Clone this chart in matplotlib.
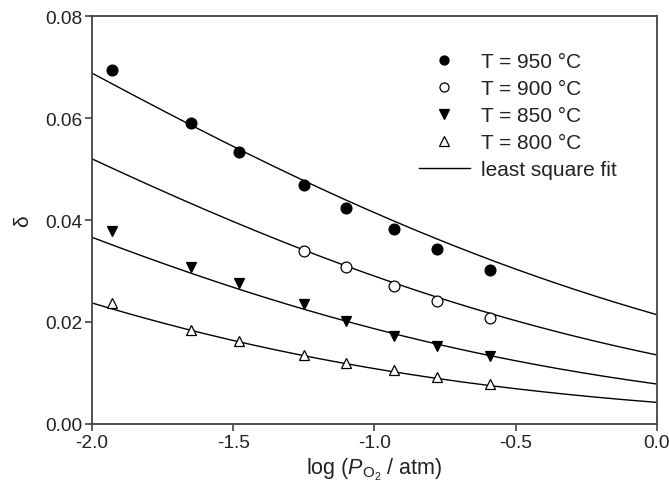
import numpy as np
import matplotlib
matplotlib.use("Agg")
import matplotlib.pyplot as plt
from matplotlib.lines import Line2D

plt.rcParams['font.family'] = ['Liberation Sans', 'DejaVu Sans']
plt.rcParams['mathtext.fontset'] = 'custom'
plt.rcParams['mathtext.it'] = 'Liberation Sans:italic'
plt.rcParams['mathtext.rm'] = 'Liberation Sans'

# log(P_O2 / atm) of the measurements
log_po2 = [-1.93, -1.65, -1.48, -1.25, -1.10, -0.93, -0.78, -0.59]

# oxygen nonstoichiometry delta at each temperature
delta_950 = [0.0694, 0.0590, 0.0534, 0.0468, 0.0424, 0.0382, 0.0344, 0.0301]
delta_900 = [np.nan, np.nan, np.nan, 0.0340, 0.0308, 0.0270, 0.0241, 0.0207]
delta_850 = [0.0378, 0.0308, 0.0276, 0.0235, 0.0201, 0.0173, 0.0153, 0.0133]
delta_800 = [0.0237, 0.0185, 0.0162, 0.0136, 0.0120, 0.0105, 0.0092, 0.0079]

# least-square fit: log10(delta) = a + b*x + c*x^2
fit_a = [-1.669, -1.8685, -2.106, -2.373]
fit_b = [-0.3195, -0.3694, -0.4198, -0.443]
fit_c = [-0.0331, -0.0386, -0.0425, -0.0344]

labels = ["T = 950 °C", "T = 900 °C", "T = 850 °C", "T = 800 °C"]
series = [delta_950, delta_900, delta_850, delta_800]
markers = ['o', 'o', 'v', '^']
faces = ['black', 'white', 'black', 'white']

fig = plt.figure(figsize=(6.69, 4.89), dpi=100)
ax = fig.add_axes([0.1375, 0.1309, 0.8445, 0.8343])

xf = np.linspace(-2.0, 0.0, 200)
for a, b, c in zip(fit_a, fit_b, fit_c):
    ax.plot(xf, 10 ** (a + b * xf + c * xf ** 2), color='black', lw=1.0, zorder=2)

for y, m, fc in zip(series, markers, faces):
    ax.plot(log_po2, y, linestyle='none', marker=m, markersize=7.8,
            markerfacecolor=fc, markeredgecolor='black', markeredgewidth=0.9, zorder=3)

ax.set_xlim(-2.0, 0.0)
ax.set_ylim(0.0, 0.08)
ax.set_xticks([-2.0, -1.5, -1.0, -0.5, 0.0])
ax.set_xticklabels(['-2.0', '-1.5', '-1.0', '-0.5', '0.0'])
ax.set_yticks([0.0, 0.02, 0.04, 0.06, 0.08])
ax.set_yticklabels(['0.00', '0.02', '0.04', '0.06', '0.08'])

for s in ax.spines.values():
    s.set_color('#444444')
    s.set_linewidth(1.3)
ax.tick_params(direction='out', length=5, width=1.2, color='#444444',
               labelsize=13.8, labelcolor='#222222', pad=2)

ax.set_xlabel(r'log ($P_{\mathrm{O_2}}$ / atm)', fontsize=15.5, color='#222222', labelpad=4)
ax.set_ylabel('δ', fontsize=15, color='#222222', labelpad=9, rotation=90)

handles = [Line2D([], [], linestyle='none', marker=m, markersize=6.5,
                  markerfacecolor=fc, markeredgecolor='black', markeredgewidth=0.9)
           for m, fc in zip(markers, faces)]
handles.append(Line2D([], [], color='black', lw=1.0))
leg = ax.legend(handles, labels + ['least square fit'], loc='upper left',
                bbox_to_anchor=(0.578, 0.912), frameon=False, fontsize=15,
                handlelength=2.45, handletextpad=0.55, labelspacing=0.39,
                borderaxespad=0.0, borderpad=0.0)
for t in leg.get_texts():
    t.set_color('#222222')

fig.savefig('out.png', dpi=100)
